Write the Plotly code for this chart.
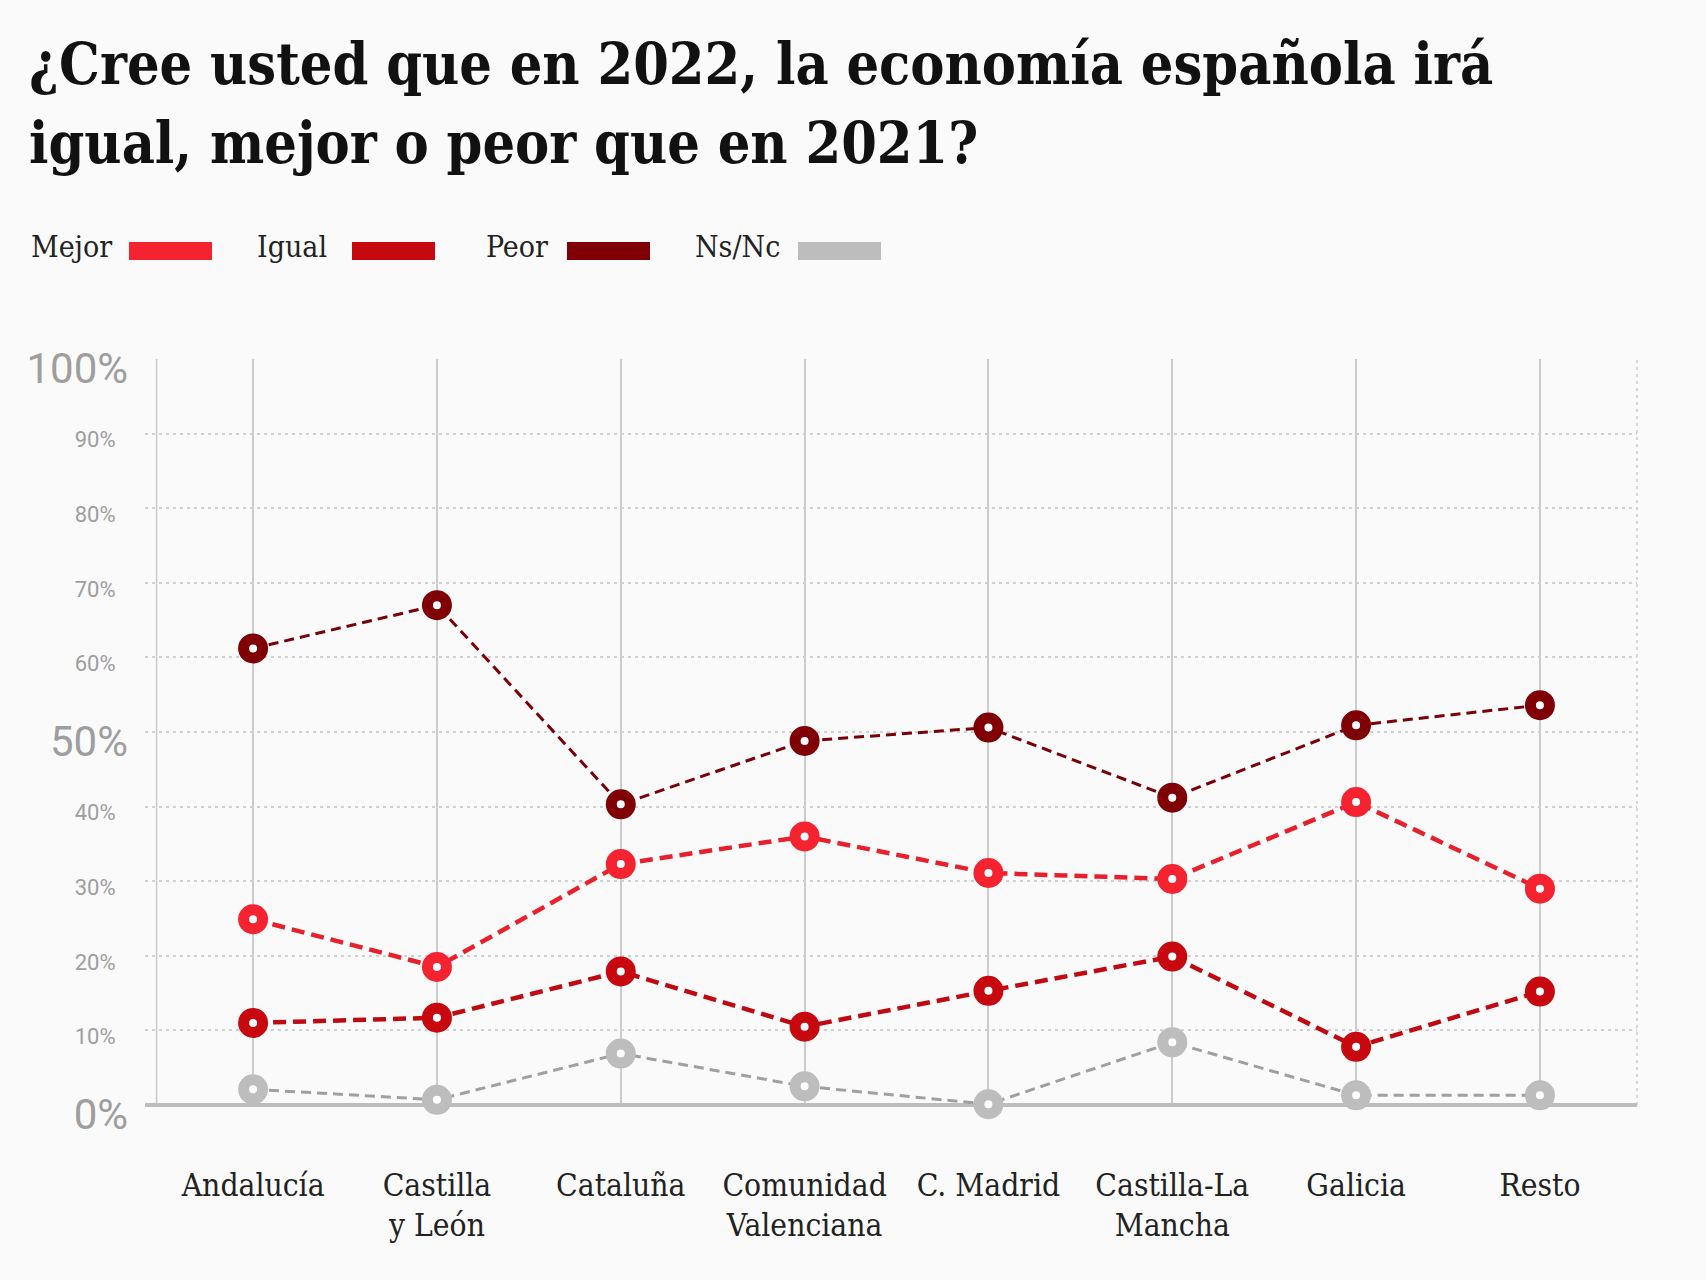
import plotly.graph_objects as go

# ---------------- data ----------------
categories = ["Andalucía", "Castilla y León", "Cataluña", "Comunidad Valenciana",
              "C. Madrid", "Castilla-La Mancha", "Galicia", "Resto"]
category_labels = ["Andalucía", "Castilla<br>y León", "Cataluña", "Comunidad<br>Valenciana",
                   "C. Madrid", "Castilla-La<br>Mancha", "Galicia", "Resto"]

series_names = ["Mejor", "Igual", "Peor", "Ns/Nc"]
mejor = [24.9, 18.5, 32.3, 36.0, 31.1, 30.3, 40.6, 29.0]
igual = [11.0, 11.7, 17.9, 10.5, 15.3, 19.9, 7.8, 15.2]
peor = [61.2, 67.0, 40.3, 48.8, 50.6, 41.2, 50.9, 53.6]
nsnc = [2.1, 0.7, 6.9, 2.5, 0.1, 8.4, 1.3, 1.3]

y_ticks = [0, 10, 20, 30, 40, 50, 60, 70, 80, 90, 100]
y_major_ticks = [0, 50, 100]

title_lines = ["¿Cree usted que en 2022, la economía española irá",
               "igual, mejor o peor que en 2021?"]

# ---------------- style ----------------
W, H = 1706, 1280
PL, PR, PT, PB = 145, 1637, 359, 1105  # plot area in pixels

marker_colors = ["#f5222f", "#c8080f", "#7f0005", "#bdbdbd"]
line_colors = ["#e8202c", "#c00a12", "#7a0007", "#a0a0a0"]
line_widths = [4.5, 4.5, 3, 3]
line_dashes = ["13px,7px", "13px,7px", "10px,6px", "10px,6px"]

SERIF = "DejaVu Serif Condensed, DejaVu Serif"
SANS = "Roboto"

def px(x):
    return (x - PL) / (PR - PL)

def py(y):
    return (PB - y) / (PB - PT)

fig = go.Figure()
for name, vals, mc, lc, lw, ld in zip(series_names, [mejor, igual, peor, nsnc],
                                       marker_colors, line_colors, line_widths, line_dashes):
    fig.add_trace(go.Scatter(
        x=categories, y=vals, name=name, mode="lines+markers",
        line=dict(color=lc, width=lw, dash=ld),
        marker=dict(size=19, color="white", line=dict(color=mc, width=11)),
        cliponaxis=False, showlegend=False,
    ))

ytext = []
for v in y_ticks:
    if v in y_major_ticks:
        ytext.append(f"<span style='font-size:42px;baseline-shift:-10px'>{v}%</span>")
    else:
        ytext.append(f"{v}%<span style='font-size:50px'>&nbsp;</span>")

fig.update_layout(
    width=W, height=H,
    margin=dict(l=PL, r=W - PR, t=PT, b=H - PB, autoexpand=False),
    paper_bgcolor="#fafafa", plot_bgcolor="#fafafa",
    xaxis=dict(range=[-0.588, 7.528], tickvals=categories, ticktext=category_labels,
               showgrid=True, gridcolor="#cccccc", gridwidth=1.5,
               ticks="", ticklabelstandoff=58, zeroline=False, showline=False,
               tickfont=dict(family=SERIF, size=31.5, color="#222222")),
    yaxis=dict(range=[0, 100], tickvals=y_ticks, ticktext=ytext,
               showgrid=True, gridcolor="#d0d0d0", gridwidth=1.5, griddash="3px,4px",
               zeroline=True, zerolinecolor="#bdbdbd", zerolinewidth=4,
               ticks="", ticklabelstandoff=16, ticklabelshift=6, showline=False,
               tickfont=dict(family=SANS, size=22, color="#9e9e9e")),
)

# title (two lines)
for line, top in zip(title_lines, [28, 107]):
    fig.add_annotation(text=line, x=px(27), y=py(top), xref="paper", yref="paper",
                       xanchor="left", yanchor="top", align="left", showarrow=False,
                       font=dict(family=SERIF, size=57, color="#111111", weight="bold"))

# left vertical line and right dotted border
fig.add_shape(type="line", xref="x", yref="paper", x0=-0.525, x1=-0.525, y0=0, y1=1,
              line=dict(color="#c8c8c8", width=1.5), layer="below")
fig.add_shape(type="line", xref="paper", yref="paper", x0=1, x1=1, y0=0, y1=1,
              line=dict(color="#cccccc", width=1.5, dash="3px,4px"), layer="below")

# legend (text followed by swatch)
legend_text_x = [29, 255, 484, 693]
legend_swatch_x = [129, 352, 567, 798]
for name, tx, sx, c in zip(series_names, legend_text_x, legend_swatch_x, marker_colors):
    fig.add_annotation(text=name, x=px(tx), y=py(247), xref="paper", yref="paper",
                       xanchor="left", yanchor="middle", showarrow=False,
                       font=dict(family=SERIF, size=30, color="#222222"))
    fig.add_shape(type="rect", xref="paper", yref="paper",
                  x0=px(sx), x1=px(sx + 83), y0=py(260), y1=py(242),
                  fillcolor=c, line=dict(width=0))

fig.write_html("out.html", config={"displayModeBar": False},
               post_script="document.body.style.margin='0';")
